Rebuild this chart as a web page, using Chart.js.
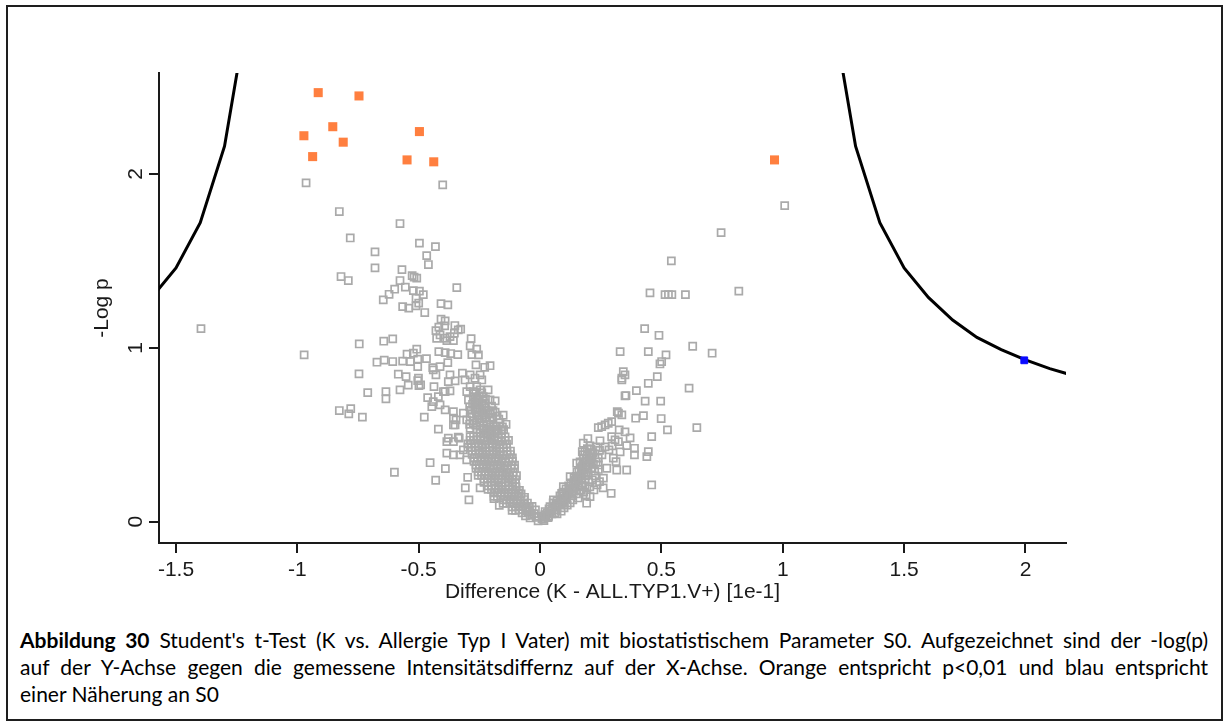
<!DOCTYPE html>
<html>
<head>
<meta charset="utf-8">
<script src="https://cdn.jsdelivr.net/npm/chart.js@4.4.0/dist/chart.umd.min.js"></script>
<style>
  html, body { margin: 0; padding: 0; background: #fff; width: 1228px; height: 726px; overflow: hidden; }
  #frame { position: absolute; left: 6px; top: 5px; width: 1217px; height: 716px; border: 2px solid #1e1e1e; box-sizing: border-box; }
  #wrap { position: absolute; left: 0; top: 0; width: 1228px; height: 612px; }
  #cap { position: absolute; left: 20px; top: 626px; width: 1188px; font-family: Lato, "Open Sans", sans-serif; font-size: 21px; line-height: 27px; color: #000; }
  .ln { text-align: justify; text-align-last: justify; }
  .last { text-align: left; text-align-last: left; }
</style>
</head>
<body>
<div id="frame"></div>
<div id="wrap"><canvas id="c" width="1228" height="612"></canvas></div>
<div id="cap">
  <div class="ln"><b>Abbildung 30</b> Student's t-Test (K vs. Allergie Typ I Vater) mit biostatistischem Parameter S0. Aufgezeichnet sind der -log(p)</div>
  <div class="ln">auf der Y-Achse gegen die gemessene Intensitätsdiffernz auf der X-Achse. Orange entspricht p&lt;0,01 und blau entspricht</div>
  <div class="ln last">einer Näherung an S0</div>
</div>
<script>
// ---------------- data ----------------
const xTitle = "Difference (K - ALL.TYP1.V+) [1e-1]";
const yTitle = "-Log p";
const xTickValues = [-1.5, -1, -0.5, 0, 0.5, 1, 1.5, 2];
const yTickValues = [0, 1, 2];

// significant (p<0.01) proteins, orange
const orangePoints = [
  [-0.914, 2.468], [-0.746, 2.449], [-0.854, 2.272], [-0.973, 2.220], [-0.811, 2.183],
  [-0.497, 2.244], [-0.937, 2.100], [-0.548, 2.081], [-0.438, 2.070], [0.966, 2.081]
];

// S0 approximation, blue
const bluePoints = [[1.995, 0.928]];

// S0 threshold curve (two branches)
const curveLeft = [
  [-1.6, 1.29], [-1.5, 1.46], [-1.4, 1.72], [-1.3, 2.16], [-1.2, 2.98]
];
const curveRight = [
  [1.2, 2.98], [1.3, 2.16], [1.4, 1.72], [1.5, 1.46], [1.6, 1.29], [1.7, 1.16],
  [1.8, 1.06], [1.9, 0.99], [2.0, 0.93], [2.1, 0.88], [2.2, 0.84]
];

// non-significant proteins, grey open squares
const greyUpperLeft = [
  [-0.964,1.949],[-0.401,1.937],[-0.827,1.784],[-0.577,1.715],[-0.782,1.632],[-0.497,1.602],[-0.431,1.582],
  [-0.680,1.552],[-0.467,1.530],[-0.460,1.479],[-0.680,1.460],[-0.569,1.450],[-0.820,1.410],[-0.790,1.387],
  [-0.527,1.415],[-0.519,1.406],[-0.508,1.401],[-0.577,1.387],[-0.343,1.346],[-0.599,1.337],[-0.622,1.308],
  [-0.646,1.276],[-0.555,1.349],[-0.522,1.329],[-0.497,1.326],[-0.481,1.306],[-0.511,1.285],[-0.566,1.237],
  [-0.541,1.228],[-0.511,1.241],[-0.500,1.257],[-0.475,1.203],[-0.408,1.254],[-0.380,1.247],[-0.408,1.165],
  [-0.417,1.119],[-0.393,1.126],[-0.351,1.128],[-0.327,1.107],[-0.391,1.155],[-1.397,1.110],[-0.972,0.959]
];
const greyMidLeft = [
  [-0.745,1.022],[-0.644,1.038],[-0.607,1.051],[-0.429,1.099],[-0.412,1.074],[-0.391,1.055],[-0.371,1.064],
  [-0.353,1.084],[-0.337,1.103],[-0.426,1.055],[-0.384,1.041],[-0.357,1.041],[-0.284,1.053],[-0.288,1.011],
  [-0.261,0.992],[-0.254,0.959],[-0.281,0.961],[-0.417,0.978],[-0.391,0.972],[-0.368,0.967],[-0.339,0.961],
  [-0.548,0.963],[-0.522,0.969],[-0.508,0.992],[-0.566,0.923],[-0.534,0.921],[-0.504,0.935],[-0.468,0.938],
  [-0.672,0.917],[-0.642,0.929],[-0.607,0.921],[-0.504,0.892],[-0.442,0.886],[-0.412,0.892],[-0.380,0.915],
  [-0.228,0.888],[-0.746,0.850],[-0.584,0.848],[-0.552,0.834],[-0.501,0.825],[-0.504,0.811],[-0.492,0.787],
  [-0.543,0.785],[-0.499,0.783],[-0.440,0.873],[-0.429,0.844],[-0.371,0.844],[-0.350,0.810],[-0.378,0.806],
  [-0.391,0.748],[-0.371,0.752],[-0.320,0.854],[-0.309,0.815],[-0.288,0.844],[-0.268,0.825],[-0.247,0.844],
  [-0.240,0.815],[-0.261,0.777],[-0.288,0.777],[-0.302,0.748],[-0.275,0.748],[-0.247,0.758],[-0.710,0.742],
  [-0.635,0.748],[-0.635,0.706],[-0.577,0.758],[-0.437,0.777],[-0.463,0.713],[-0.440,0.690],[-0.419,0.719],
  [-0.398,0.748],[-0.446,0.662],[-0.412,0.672],[-0.827,0.639],[-0.788,0.620],[-0.780,0.650],[-0.732,0.601],
  [-0.477,0.601],[-0.419,0.532],[-0.391,0.643],[-0.357,0.633],[-0.346,0.585],[-0.350,0.556],[-0.316,0.624],
  [-0.302,0.585],[-0.288,0.604],[-0.275,0.566],[-0.261,0.585],[-0.240,0.595],[-0.220,0.575],[-0.206,0.585],
  [-0.192,0.547],[-0.234,0.537],[-0.288,0.537],[-0.261,0.528],[-0.275,0.719],[-0.254,0.700],[-0.234,0.719],
  [-0.240,0.671],[-0.261,0.671],[-0.227,0.681],[-0.140,0.560],[-0.378,0.480],[-0.337,0.486]
];
const greyLowLeft = [
  [-0.453,0.339],[-0.430,0.238],[-0.390,0.305],[-0.308,0.194],[-0.247,0.194],[-0.293,0.125],[-0.190,0.132],
  [-0.168,0.094],[-0.298,0.255],[-0.384,0.460],[-0.357,0.460],[-0.333,0.480],[-0.384,0.394],[-0.357,0.384],
  [-0.330,0.384],[-0.316,0.413],[-0.302,0.355],[-0.600,0.284],[-0.357,0.595],[-0.357,0.556],
  [-0.247,0.528],[-0.222,0.521],[-0.198,0.532],[-0.173,0.524],[-0.150,0.529],
  [-0.288,0.488],[-0.260,0.492],[-0.231,0.484],[-0.202,0.490],[-0.173,0.482],[-0.144,0.487],
  [-0.297,0.447],[-0.268,0.452],[-0.239,0.443],[-0.210,0.449],[-0.181,0.441],[-0.152,0.446],
  [-0.280,0.407],[-0.251,0.411],[-0.222,0.403],[-0.194,0.409],[-0.165,0.401],[-0.136,0.406],
  [-0.272,0.367],[-0.243,0.371],[-0.214,0.362],[-0.185,0.368],[-0.157,0.360],[-0.128,0.366],
  [-0.264,0.326],[-0.235,0.331],[-0.206,0.322],[-0.177,0.328],[-0.148,0.320],[-0.119,0.325],
  [-0.255,0.286],[-0.227,0.290],[-0.198,0.282],[-0.169,0.288],[-0.140,0.280],[-0.111,0.285],
  [-0.231,0.246],[-0.202,0.250],[-0.173,0.242],[-0.144,0.248],[-0.115,0.240],
  [-0.214,0.206],[-0.185,0.210],[-0.157,0.202],[-0.128,0.208],[-0.099,0.200],
  [-0.190,0.165],[-0.161,0.169],[-0.132,0.161],[-0.103,0.167],[-0.078,0.160],
  [-0.152,0.125],[-0.124,0.129],[-0.095,0.121],[-0.066,0.127],
  [-0.115,0.085],[-0.087,0.089],[-0.058,0.081],[-0.033,0.087],
  [-0.074,0.050],[-0.049,0.054],[-0.025,0.046],
  [-0.041,0.021],[-0.016,0.024],[0.008,0.018],[0.033,0.023],[-0.008,0.004],[0.016,0.006],
  [-0.222,0.643],[-0.194,0.638],[-0.177,0.608],[-0.152,0.612],[-0.247,0.568],[-0.218,0.563],
  [-0.165,0.570],[-0.206,0.700],[-0.185,0.695],[-0.214,0.758],[-0.264,0.902],[-0.206,0.897]
];
const greyLeftCore = [
  [-0.233,0.508],[-0.208,0.501],[-0.184,0.512],[-0.159,0.504],
  [-0.274,0.468],[-0.246,0.472],[-0.217,0.464],[-0.188,0.470],[-0.159,0.462],[-0.130,0.467],
  [-0.283,0.427],[-0.254,0.432],[-0.225,0.423],[-0.196,0.429],[-0.167,0.421],[-0.138,0.426],
  [-0.266,0.387],[-0.237,0.391],[-0.208,0.383],[-0.180,0.389],[-0.151,0.381],[-0.122,0.386],
  [-0.258,0.347],[-0.229,0.351],[-0.200,0.342],[-0.171,0.348],[-0.143,0.340],[-0.114,0.346],
  [-0.250,0.306],[-0.221,0.311],[-0.192,0.302],[-0.163,0.308],[-0.134,0.300],[-0.105,0.305],
  [-0.241,0.266],[-0.213,0.270],[-0.184,0.262],[-0.155,0.268],[-0.126,0.260],[-0.097,0.265],
  [-0.217,0.226],[-0.188,0.230],[-0.159,0.222],[-0.130,0.228],[-0.101,0.220],
  [-0.200,0.186],[-0.171,0.190],[-0.143,0.182],[-0.114,0.188],[-0.085,0.180],
  [-0.176,0.145],[-0.147,0.149],[-0.118,0.141],[-0.089,0.147],[-0.064,0.140],
  [-0.138,0.105],[-0.110,0.109],[-0.081,0.101],[-0.052,0.107],
  [-0.101,0.065],[-0.073,0.069],[-0.044,0.061],[-0.019,0.067],
  [-0.060,0.033],[-0.035,0.036],[-0.011,0.030],[0.020,0.035],
  [-0.290,0.560],[-0.265,0.555],[-0.235,0.552],[-0.205,0.557],[-0.180,0.550],[-0.155,0.545],
  [-0.280,0.620],[-0.255,0.615],[-0.230,0.625],[-0.205,0.618],[-0.185,0.630],
  [-0.290,0.660],[-0.268,0.650],[-0.248,0.645],[-0.225,0.655],[-0.200,0.665],
  [-0.295,0.700],[-0.270,0.690],[-0.250,0.725],[-0.225,0.705]
];
const greyLeftFill = [
  [-0.233,0.528],[-0.208,0.522],[-0.184,0.530],[-0.160,0.526],
  [-0.274,0.488],[-0.246,0.490],[-0.217,0.486],[-0.188,0.489],[-0.159,0.484],
  [-0.283,0.447],[-0.254,0.450],[-0.225,0.445],[-0.196,0.448],[-0.167,0.443],[-0.138,0.446],
  [-0.266,0.407],[-0.237,0.409],[-0.208,0.405],[-0.180,0.408],[-0.151,0.403],[-0.122,0.406],
  [-0.258,0.367],[-0.229,0.369],[-0.200,0.364],[-0.171,0.367],[-0.143,0.362],[-0.114,0.366],
  [-0.250,0.326],[-0.221,0.329],[-0.192,0.324],[-0.163,0.327],[-0.134,0.322],[-0.105,0.325],
  [-0.241,0.286],[-0.213,0.288],[-0.184,0.284],[-0.155,0.287],[-0.126,0.282],
  [-0.217,0.246],[-0.188,0.248],[-0.159,0.244],[-0.130,0.247],[-0.101,0.242],
  [-0.200,0.206],[-0.171,0.208],[-0.143,0.204],[-0.114,0.207],
  [-0.176,0.165],[-0.147,0.167],[-0.118,0.163],[-0.089,0.166],
  [-0.138,0.125],[-0.110,0.127],[-0.081,0.123],
  [-0.101,0.085],[-0.073,0.087],[-0.044,0.083],
  [-0.247,0.508],[-0.222,0.503],[-0.198,0.512],[-0.173,0.505],
  [-0.288,0.468],[-0.260,0.471],[-0.231,0.465],[-0.202,0.470],[-0.173,0.463],[-0.144,0.467],
  [-0.297,0.427],[-0.268,0.431],[-0.239,0.424],[-0.210,0.429],[-0.181,0.422],[-0.152,0.426],
  [-0.280,0.387],[-0.251,0.390],[-0.222,0.384],[-0.194,0.389],[-0.165,0.382],[-0.136,0.386],
  [-0.272,0.347],[-0.243,0.350],[-0.214,0.343],[-0.185,0.348],[-0.157,0.341],[-0.128,0.346],
  [-0.264,0.306],[-0.235,0.310],[-0.206,0.303],[-0.177,0.308],[-0.148,0.301],[-0.119,0.305],
  [-0.255,0.266],[-0.227,0.269],[-0.198,0.263],[-0.169,0.268],[-0.140,0.261],[-0.111,0.265],
  [-0.231,0.226],[-0.202,0.229],[-0.173,0.223],[-0.144,0.228],[-0.115,0.221],
  [-0.214,0.186],[-0.185,0.189],[-0.157,0.183],[-0.128,0.188],[-0.099,0.181],
  [-0.190,0.145],[-0.161,0.148],[-0.132,0.142],[-0.103,0.147],
  [-0.152,0.105],[-0.124,0.108],[-0.095,0.102],[-0.066,0.107],
  [-0.115,0.065],[-0.087,0.068],[-0.058,0.062],
  [-0.275,0.580],[-0.250,0.590],[-0.225,0.595],[-0.195,0.600],[-0.170,0.590],[-0.285,0.640],
  [-0.262,0.632],[-0.240,0.640],[-0.215,0.635],[-0.278,0.675],[-0.255,0.685],[-0.235,0.695],
  [-0.260,0.710],[-0.240,0.740],[-0.265,0.745]
];
const greyRight = [
  [0.337,0.815],[0.446,0.796],[0.614,0.768],[0.354,0.725],[0.397,0.754],[0.433,0.693],[0.497,0.693],
  [0.318,0.633],[0.323,0.624],[0.337,0.614],[0.394,0.595],[0.426,0.610],[0.499,0.593],[0.525,0.528],
  [0.646,0.541],[0.240,0.541],[0.254,0.547],[0.268,0.556],[0.281,0.566],[0.295,0.575],[0.326,0.528],
  [0.460,0.489],[0.295,0.489],[0.309,0.470],[0.323,0.460],[0.197,0.478],[0.178,0.451],[0.357,0.437],
  [0.389,0.422],[0.389,0.384],[0.446,0.403],[0.440,0.374],[0.174,0.403],[0.178,0.365],[0.240,0.365],
  [0.302,0.365],[0.313,0.345],[0.151,0.336],[0.206,0.336],[0.240,0.326],[0.357,0.297],[0.316,0.297],
  [0.275,0.307],[0.261,0.250],[0.460,0.211],[0.293,0.163],[0.192,0.106],[0.206,0.144],[0.165,0.182],
  [0.137,0.221],[0.124,0.259],[0.096,0.201],[0.089,0.163],[0.055,0.125],[0.041,0.086],[0.021,0.058],
  [0.431,1.110],[0.490,1.072],[0.629,1.009],[0.709,0.969],[0.330,0.978],[0.446,0.978],[0.519,0.959],
  [0.501,0.921],[0.494,0.907],[0.343,0.863],[0.350,0.844],[0.337,0.825],[0.483,0.834],[0.350,0.724],
  [1.008,1.818],[0.746,1.663],[0.541,1.500],[0.453,1.316],[0.515,1.306],[0.529,1.306],[0.543,1.306],
  [0.599,1.306],[0.819,1.326],
  [0.025,0.027],[0.049,0.044],[0.037,0.073],[0.066,0.067],[0.074,0.096],[0.054,0.108],[0.091,0.113],
  [0.103,0.136],[0.082,0.148],[0.115,0.159],[0.132,0.177],[0.107,0.188],[0.144,0.200],[0.128,0.223],
  [0.157,0.234],[0.173,0.211],[0.140,0.251],[0.165,0.263],[0.185,0.246],[0.152,0.286],[0.177,0.297],
  [0.198,0.280],[0.190,0.320],[0.214,0.309],[0.165,0.343],[0.202,0.366],[0.218,0.395],[0.185,0.401],
  [0.206,0.436],[0.227,0.263],[0.235,0.211],[0.260,0.194],[0.222,0.182],[0.190,0.154],[0.157,0.136],
  [0.124,0.108],[0.099,0.079],[0.070,0.044],[0.231,0.343],[0.255,0.384],[0.268,0.430],[0.247,0.465],
  [0.284,0.413],[0.231,0.430],[0.350,0.516],[0.371,0.482],[0.297,0.436],[0.330,0.401],
  [0.012,0.015],[0.030,0.050],[0.045,0.060],[0.060,0.085],[0.062,0.050],[0.080,0.095],[0.085,0.125],
  [0.097,0.150],[0.110,0.135],[0.120,0.170],[0.118,0.205],[0.135,0.195],[0.148,0.225],[0.160,0.205],
  [0.150,0.260],[0.172,0.240],[0.170,0.275],[0.190,0.265],[0.175,0.320],[0.195,0.300],[0.200,0.345],
  [0.178,0.385],[0.195,0.385],[0.210,0.415],[0.210,0.355],[0.220,0.330],[0.245,0.410],[0.240,0.300],
  [0.215,0.240],[0.205,0.200],[0.245,0.230],[0.180,0.170],[0.150,0.160],[0.135,0.125],[0.112,0.095],
  [0.087,0.060],[0.100,0.105],
  [0.020,0.040],[0.035,0.030],[0.050,0.075],[0.065,0.100],[0.070,0.120],[0.090,0.130],[0.095,0.170],
  [0.108,0.160],[0.125,0.190],[0.130,0.150],[0.140,0.175],[0.145,0.240],[0.160,0.250],[0.160,0.290],
  [0.182,0.285],[0.170,0.310],[0.185,0.340],[0.195,0.320],[0.190,0.365],[0.205,0.390],[0.195,0.420],
  [0.215,0.370],[0.225,0.290],[0.200,0.230],[0.185,0.200],[0.170,0.180]
];

// ---------------- chart ----------------
const toXY = arr => arr.map(p => ({ x: p[0], y: p[1] }));
const greyAll = greyUpperLeft.concat(greyMidLeft, greyLowLeft, greyLeftCore, greyLeftFill, greyRight);
const axisFont = { family: "'Liberation Sans', Arial, sans-serif", size: 21 };
const ink = '#1a1a1a';

new Chart(document.getElementById('c'), {
  type: 'scatter',
  data: {
    datasets: [
      { data: toXY(bluePoints), pointStyle: 'rect', pointRadius: 4.8, backgroundColor: '#0a0aff', borderColor: '#0a0aff', borderWidth: 1 },
      { data: toXY(orangePoints), pointStyle: 'rect', pointRadius: 6.4, backgroundColor: '#ff7f3f', borderWidth: 0 },
      { data: toXY(greyAll), pointStyle: 'rect', pointRadius: 5, backgroundColor: 'rgba(0,0,0,0)', borderColor: '#aaaaaa', borderWidth: 1.7 },
      { data: toXY(curveLeft), showLine: true, borderColor: '#000', borderWidth: 3, pointRadius: 0, tension: 0, clip: 0 },
      { data: toXY(curveRight), showLine: true, borderColor: '#000', borderWidth: 3, pointRadius: 0, tension: 0, clip: 0 }
    ]
  },
  options: {
    responsive: false,
    animation: false,
    events: [],
    layout: { padding: { left: 90, top: 73, right: 162, bottom: 0 } },
    plugins: { legend: { display: false }, tooltip: { enabled: false } },
    scales: {
      x: {
        type: 'linear', min: -1.57, max: 2.167,
        afterFit: s => { s.height = 69; },
        afterBuildTicks: s => { s.ticks = xTickValues.map(v => ({ value: v })); },
        border: { display: true, color: ink, width: 2 },
        grid: { display: true, drawOnChartArea: false, drawTicks: true, tickLength: 10, color: ink, lineWidth: 2 },
        ticks: { autoSkip: false, maxRotation: 0, minRotation: 0, padding: 5, color: ink, font: axisFont, callback: v => String(v) },
        title: { display: true, text: xTitle, color: ink, font: axisFont, padding: { top: 0, bottom: 7 } }
      },
      y: {
        type: 'linear', min: -0.123, max: 2.581,
        afterFit: s => { s.width = 69; },
        afterBuildTicks: s => { s.ticks = yTickValues.map(v => ({ value: v })); },
        border: { display: true, color: ink, width: 2 },
        grid: { display: true, drawOnChartArea: false, drawTicks: true, tickLength: 10, color: ink, lineWidth: 2 },
        ticks: { autoSkip: false, minRotation: 90, maxRotation: 90, crossAlign: 'center', padding: 7, color: ink, font: axisFont, callback: v => String(v) },
        title: { display: true, text: yTitle, color: ink, font: axisFont, padding: { top: 0, bottom: 0 } }
      }
    }
  }
});
</script>
</body>
</html>
